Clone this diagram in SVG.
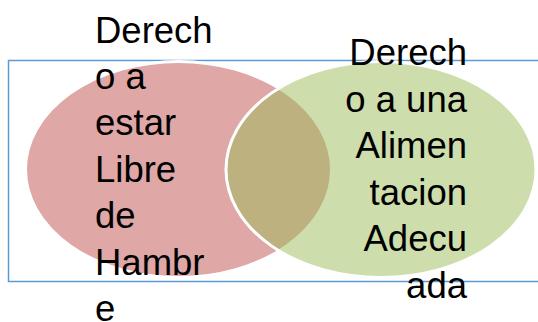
<svg xmlns="http://www.w3.org/2000/svg" width="538" height="322" viewBox="0 0 538 322">
<style>
.frame{fill:none;stroke:#5B9BD5;stroke-width:1.5}
.circ{stroke:#FFFFFF;stroke-width:3;fill-opacity:0.5}
.lbl{font-family:"Liberation Sans",Arial,sans-serif;font-size:36.5px;fill:#000000}
</style>
<rect class="frame" x="8.5" y="60.5" width="545" height="221"/>
<g id="node-hambre">
<ellipse class="circ" cx="178.5" cy="169.5" rx="153" ry="108" fill="#C0504D"/>
</g>
<g id="node-alimentacion">
<ellipse class="circ" cx="381" cy="169.5" rx="155" ry="108" fill="#9BBB59"/>
</g>
<g id="labels">
<text class="lbl"><tspan x="95" y="42.7">Derech</tspan><tspan x="95" y="89">o a</tspan><tspan x="95" y="135.4">estar</tspan><tspan x="95" y="181.8">Libre</tspan><tspan x="95" y="228.2">de</tspan><tspan x="95" y="274.6">Hambr</tspan><tspan x="95" y="321">e</tspan></text>
<text class="lbl" text-anchor="end"><tspan x="467" y="65">Derech</tspan><tspan x="467" y="111.6">o a una</tspan><tspan x="467" y="158.2">Alimen</tspan><tspan x="467" y="204.8">tacion</tspan><tspan x="467" y="251.4">Adecu</tspan><tspan x="467" y="298">ada</tspan></text>
</g>
</svg>
